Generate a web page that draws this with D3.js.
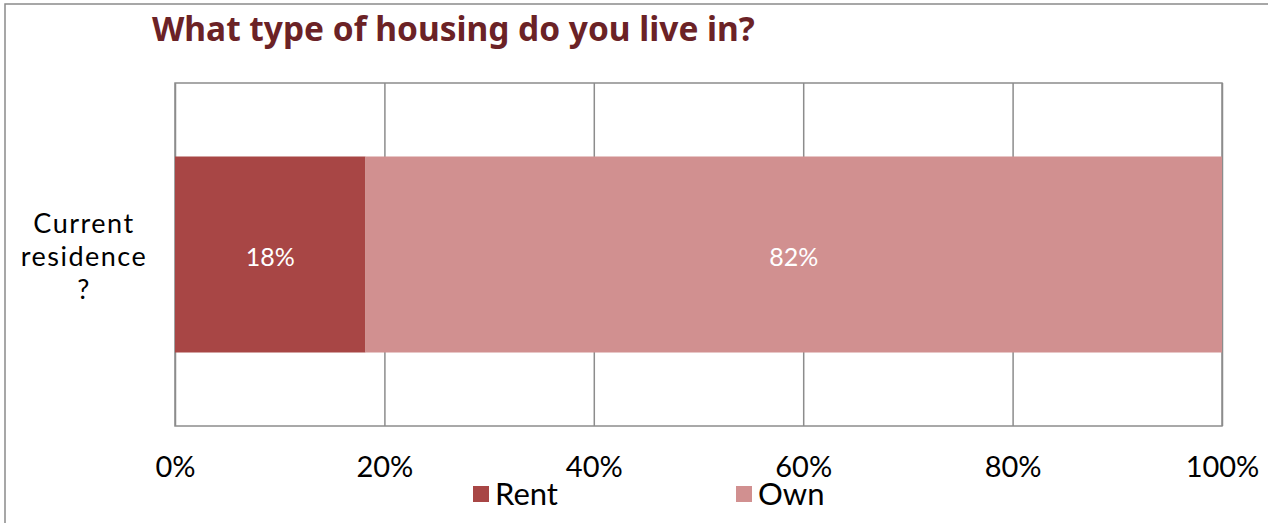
<!DOCTYPE html>
<html><head><meta charset="utf-8">
<script src="https://cdn.jsdelivr.net/npm/d3@7"></script>
<style>body{margin:0;background:#fff;overflow:hidden}</style>
</head><body>
<svg id="c" width="1268" height="523"></svg>
<script>
const categories = ["Current residence ?"];
const categoryLines = [["Current", "residence", "?"]];
const seriesNames = ["Rent", "Own"];
const rentValues = [18.2];
const ownValues = [81.8];
const tickValues = [0, 20, 40, 60, 80, 100];
const tickLabels = ["0%", "20%", "40%", "60%", "80%", "100%"];
const colors = ["#A84645", "#D19090"];
const FONT = "Lato, 'Noto Sans', sans-serif";
const TFONT = "'Noto Sans', sans-serif";

const svg = d3.select("#c");
const W = 1268, H = 523;
const m = {left:175, right:1222, top:83, bottom:426};

// outer border (left + top visible)
svg.append("rect").attr("x",5).attr("y",4).attr("width",W+20).attr("height",H+20)
  .attr("fill","#fff").attr("stroke","#8a8a8a").attr("stroke-width",1.5);

svg.append("text").attr("x",152).attr("y",41)
  .attr("font-family",TFONT).attr("font-weight","bold").attr("font-size",28)
  .attr("fill","#6B2226").text("What type of housing do you live in?")
  .each(function(){ const w=this.getComputedTextLength(); const t=603; d3.select(this).attr("font-size",28*t/w); });

const x = d3.scaleLinear().domain([0,100]).range([m.left, m.right]);
const y = d3.scaleBand().domain(categories).range([m.top, m.bottom]).paddingInner(0).paddingOuter(0.375);

// gridlines
const grid = svg.append("g").attr("transform",`translate(0,${m.bottom})`)
  .call(d3.axisBottom(x).tickValues(tickValues).tickSize(-(m.bottom-m.top)).tickFormat(""));
grid.select(".domain").remove();
grid.selectAll(".tick line").attr("stroke","#8c8c8c").attr("stroke-width",1.5);

// plot frame
svg.append("rect").attr("x",m.left).attr("y",m.top).attr("width",m.right-m.left).attr("height",m.bottom-m.top)
  .attr("fill","none").attr("stroke","#8c8c8c").attr("stroke-width",1.5);

// stacked bars
const rows = categories.map((c,i)=>({cat:c, Rent:rentValues[i], Own:ownValues[i]}));
const stack = d3.stack().keys(seriesNames)(rows);
stack.forEach((s,si)=>{
  const g = svg.append("g");
  g.selectAll("rect").data(s).join("rect")
    .attr("x",d=>x(d[0])).attr("width",d=>x(d[1])-x(d[0]))
    .attr("y",d=>y(d.data.cat)).attr("height",y.bandwidth())
    .attr("fill",colors[si]);
  g.selectAll("text").data(s).join("text")
    .attr("x",d=>(x(d[0])+x(d[1]))/2).attr("y",d=>y(d.data.cat)+y.bandwidth()/2+11)
    .attr("text-anchor","middle").attr("font-family",FONT).attr("font-size",25)
    .attr("fill","#fff").text(d=>Math.round(d[1]-d[0])+"%");
});

// x axis labels
const ax = svg.append("g").attr("transform",`translate(0,${m.bottom})`)
  .call(d3.axisBottom(x).tickValues(tickValues).tickSize(0).tickPadding(0).tickFormat((d,i)=>tickLabels[i]));
ax.select(".domain").remove();
ax.selectAll("text").attr("font-family",FONT).attr("font-size",29).attr("fill","#000")
  .attr("dy",null).attr("y",51);

// category label
categories.forEach((c,ci)=>{
  const t = svg.append("text").attr("text-anchor","middle").attr("font-family",FONT)
    .attr("font-size",27).attr("letter-spacing",1.5).attr("fill","#000");
  categoryLines[ci].forEach((l,i)=>t.append("tspan").attr("x",84).attr("y",y(c)+y.bandwidth()/2 - 22 + i*33).text(l));
});

// legend
const lx = [473, 736];
seriesNames.forEach((n,i)=>{
  svg.append("rect").attr("x",lx[i]).attr("y",486).attr("width",16).attr("height",16).attr("fill",colors[i]);
  svg.append("text").attr("x",lx[i]+22).attr("y",505).attr("font-family",FONT).attr("font-size",31)
    .attr("fill","#000").text(n);
});
</script>
</body></html>
